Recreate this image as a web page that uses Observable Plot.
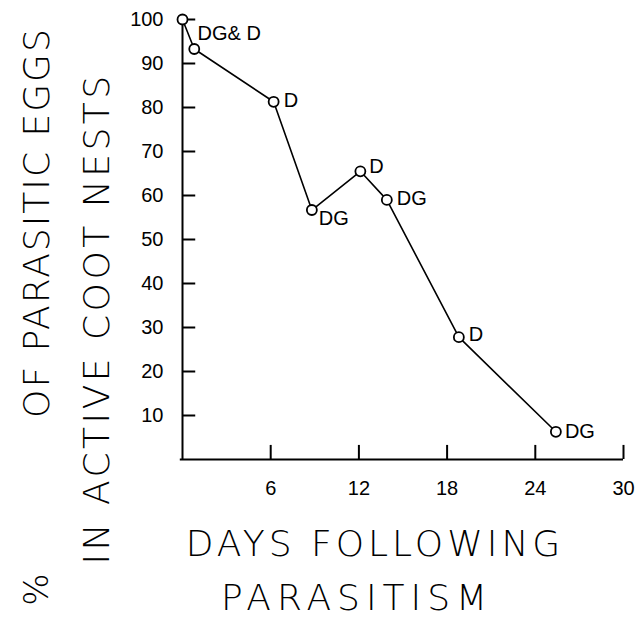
<!DOCTYPE html>
<html>
<head>
<meta charset="utf-8">
<script src="https://cdn.jsdelivr.net/npm/d3@7"></script>
<script src="https://cdn.jsdelivr.net/npm/@observablehq/plot@0.6"></script>
<style>
  html, body { margin: 0; padding: 0; background: #fff; }
  svg { display: block; }
</style>
</head>
<body>
<div id="chart"></div>
<script>
// Days following parasitism
const days = [0, 0.8, 6.2, 8.8, 12.1, 13.9, 18.8, 25.4];
// % of parasitic eggs in active coot nests
const percent = [100, 93.3, 81.3, 56.7, 65.5, 59, 27.8, 6.3];
// point annotations
const labels = ["DG& D", "", "D", "DG", "D", "DG", "D", "DG"];
const xTicks = [6, 12, 18, 24, 30];
const yTicks = [10, 20, 30, 40, 50, 60, 70, 80, 90, 100];
const xTitle = "DAYS FOLLOWING\nPARASITISM";
const yTitle1 = "OF PARASITIC EGGS";
const yTitle2 = "IN ACTIVE COOT NESTS";
const yTitlePct = "%";

const data = days.map((d, i) => ({day: d, pct: percent[i], label: labels[i], i}));

const titleFont = "'DejaVu Sans ExtraLight', 'DejaVu Sans', sans-serif";
const tickFont = "'Liberation Sans', Arial, sans-serif";

const lab = (idx, dx, dy) => Plot.text(data.filter(d => d.i === idx), {
  x: "day", y: "pct", text: "label", dx, dy, textAnchor: "start",
  fontSize: 20, fontFamily: tickFont, fill: "black"
});

const chart = Plot.plot({
  width: 639,
  height: 617,
  marginLeft: 182,
  marginRight: 16,
  marginTop: 19,
  marginBottom: 158,
  style: {background: "white", color: "black", overflow: "visible"},
  x: {domain: [0, 30]},
  y: {domain: [0, 100]},
  marks: [
    // axis lines
    Plot.ruleX([0], {y1: 0, y2: 100, stroke: "black", strokeWidth: 2}),
    Plot.ruleY([0], {x1: -0.15, x2: 30, stroke: "black", strokeWidth: 2}),
    // inward ticks
    Plot.ruleY(yTicks, {x1: 0, x2: 0.9, stroke: "black", strokeWidth: 2}),
    Plot.ruleX(xTicks, {y1: 0, y2: 3.2, stroke: "black", strokeWidth: 2}),
    // tick labels
    Plot.axisY({ticks: yTicks, tickSize: 0, tickPadding: 19, fontSize: 20, fontFamily: tickFont, label: null}),
    Plot.axisX({ticks: xTicks, tickSize: 0, tickPadding: 21, fontSize: 20, fontFamily: tickFont, label: null}),
    // data
    Plot.line(data, {x: "day", y: "pct", stroke: "black", strokeWidth: 1.6}),
    Plot.dot(data, {x: "day", y: "pct", r: 5, stroke: "black", fill: "white", strokeWidth: 1.8}),
    lab(0, 15, 14),
    lab(2, 10, -1),
    lab(3, 7, 9),
    lab(4, 9, -5),
    lab(5, 10, -1),
    lab(6, 10, -3),
    lab(7, 9, 0),
    // axis titles
    Plot.text([xTitle], {frameAnchor: "bottom", textAnchor: "middle", dx: -28, dy: 106, lineAnchor: "middle", lineHeight: 1.5,
      fontSize: 36, fontWeight: 200, fontFamily: titleFont, fill: "black"}),
    Plot.text([yTitle1], {frameAnchor: "left", textAnchor: "middle", rotate: -90, dx: -145, dy: -17, lineAnchor: "middle",
      fontSize: 36, fontWeight: 200, fontFamily: titleFont, fill: "black"}),
    Plot.text([yTitle2], {frameAnchor: "left", textAnchor: "middle", rotate: -90, dx: -85, dy: 79, lineAnchor: "middle",
      fontSize: 36, fontWeight: 200, fontFamily: titleFont, fill: "black"}),
    Plot.text([yTitlePct], {frameAnchor: "left", textAnchor: "middle", rotate: -90, dx: -145, dy: 350, lineAnchor: "middle",
      fontSize: 34, fontWeight: 200, fontFamily: titleFont, fill: "black"})
  ]
});
// letter spacing for the hand-lettered titles
d3.select(chart).selectAll("text").each(function() {
  const t = this.textContent;
  if (t.startsWith("DAYS")) {
    const spans = d3.select(this).selectAll("tspan");
    spans.each(function(_, i) {
      if (i === 0) d3.select(this).style("letter-spacing", "4px");
      else d3.select(this).style("letter-spacing", "6px").attr("x", -18);
    });
  } else if (t === yTitle1) d3.select(this).style("letter-spacing", "2px");
  else if (t === yTitle2) d3.select(this).style("letter-spacing", "3.5px");
});
document.getElementById("chart").appendChild(chart);
</script>
</body>
</html>
